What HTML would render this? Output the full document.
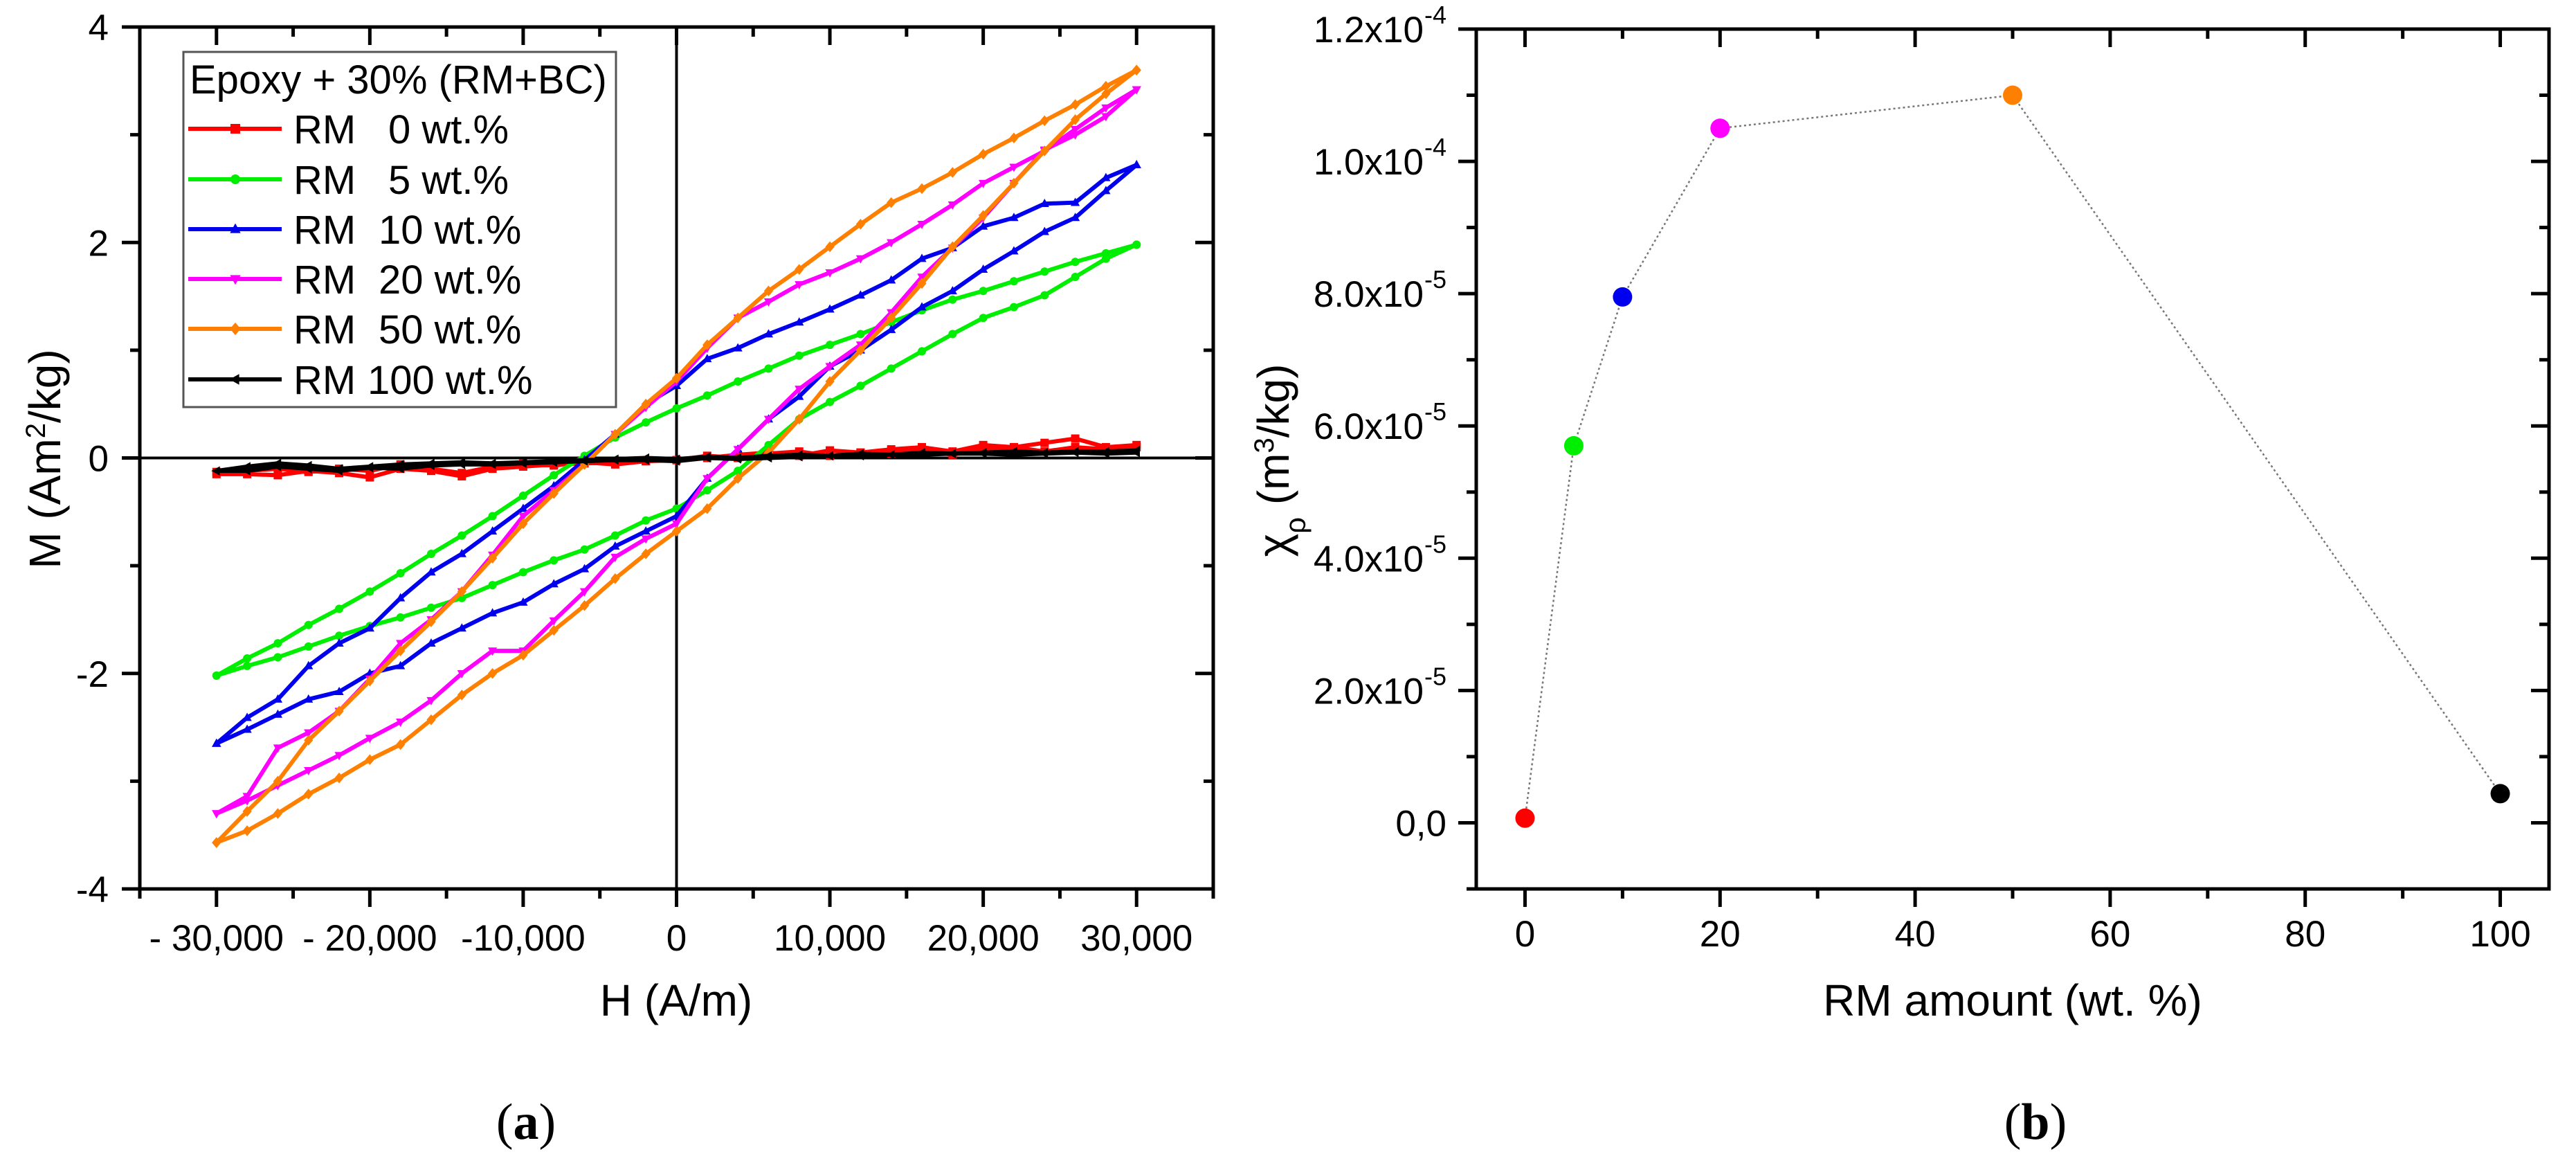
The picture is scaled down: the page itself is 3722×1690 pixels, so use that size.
<!DOCTYPE html>
<html><head><meta charset="utf-8"><style>
html,body{margin:0;padding:0;background:#fff;}
svg{display:block;font-family:"Liberation Sans",Arial,sans-serif;}
</style></head><body>
<svg id="fig" width="3722" height="1690" viewBox="0 0 3722 1690" xmlns="http://www.w3.org/2000/svg">
<g id="pa"></g>
<g id="pb"></g>
<text x="760" y="1645" font-family="Liberation Serif,serif" font-size="74" text-anchor="middle">(<tspan font-weight="bold">a</tspan>)</text>
<text x="2941" y="1645" font-family="Liberation Serif,serif" font-size="74" text-anchor="middle">(<tspan font-weight="bold">b</tspan>)</text>
</svg>
<script>
// ---- Panel (a) data ----
const hGrid = [-30000,-28000,-26000,-24000,-22000,-20000,-18000,-16000,-14000,-12000,-10000,-8000,-6000,-4000,-2000,0,2000,4000,6000,8000,10000,12000,14000,16000,18000,20000,22000,24000,26000,28000,30000];
const seriesNames = ["RM 0 wt.%","RM 5 wt.%","RM 10 wt.%","RM 20 wt.%","RM 50 wt.%","RM 100 wt.%"];
const redUp = [-0.13,-0.12,-0.1,-0.13,-0.1,-0.12,-0.06,-0.1,-0.14,-0.08,-0.05,-0.07,-0.04,-0.06,-0.03,-0.02,0.0,0.03,0.05,0.02,0.07,0.05,0.08,0.1,0.06,0.12,0.1,0.14,0.18,0.1,0.12];
const redDn = [-0.15,-0.15,-0.16,-0.12,-0.14,-0.18,-0.1,-0.12,-0.17,-0.1,-0.08,-0.06,-0.05,-0.04,-0.03,-0.02,0.02,0.0,0.04,0.06,0.02,0.05,0.04,0.07,0.03,0.08,0.1,0.06,0.1,0.08,0.1];
const greenUp = [-2.02,-1.86,-1.72,-1.55,-1.4,-1.24,-1.07,-0.89,-0.72,-0.54,-0.35,-0.16,0.02,0.19,0.33,0.46,0.58,0.71,0.83,0.95,1.05,1.15,1.26,1.37,1.47,1.55,1.64,1.73,1.82,1.9,1.98];
const greenDn = [-2.02,-1.93,-1.85,-1.75,-1.65,-1.56,-1.48,-1.39,-1.3,-1.18,-1.06,-0.95,-0.85,-0.72,-0.58,-0.47,-0.3,-0.12,0.12,0.36,0.52,0.67,0.83,0.99,1.15,1.3,1.4,1.51,1.68,1.85,1.98];
const blueUp = [-2.65,-2.41,-2.24,-1.93,-1.72,-1.58,-1.3,-1.06,-0.89,-0.68,-0.47,-0.26,-0.02,0.22,0.5,0.67,0.92,1.02,1.15,1.26,1.38,1.51,1.65,1.85,1.95,2.15,2.23,2.36,2.37,2.6,2.72];
const blueDn = [-2.65,-2.52,-2.38,-2.24,-2.17,-2.0,-1.93,-1.72,-1.58,-1.44,-1.34,-1.17,-1.03,-0.82,-0.68,-0.54,-0.19,0.08,0.36,0.57,0.85,1.0,1.19,1.4,1.55,1.75,1.92,2.1,2.23,2.48,2.72];
const magUp = [-3.3,-3.14,-2.69,-2.55,-2.35,-2.05,-1.72,-1.5,-1.24,-0.9,-0.54,-0.3,-0.06,0.22,0.47,0.71,1.02,1.3,1.45,1.61,1.72,1.85,2.0,2.17,2.35,2.55,2.7,2.85,3.05,3.25,3.42];
const magDn = [-3.3,-3.18,-3.04,-2.9,-2.76,-2.6,-2.45,-2.25,-2.0,-1.79,-1.79,-1.51,-1.24,-0.92,-0.75,-0.61,-0.19,0.08,0.36,0.64,0.85,1.05,1.35,1.68,1.95,2.23,2.55,2.86,3.0,3.17,3.42];
const orangeUp = [-3.57,-3.28,-3.0,-2.62,-2.35,-2.07,-1.79,-1.52,-1.24,-0.93,-0.61,-0.33,-0.06,0.22,0.5,0.74,1.05,1.3,1.55,1.75,1.96,2.17,2.37,2.5,2.65,2.82,2.97,3.13,3.28,3.45,3.6];
const orangeDn = [-3.57,-3.46,-3.3,-3.12,-2.97,-2.8,-2.66,-2.43,-2.2,-2.0,-1.83,-1.6,-1.37,-1.12,-0.89,-0.68,-0.47,-0.19,0.05,0.36,0.71,1.0,1.3,1.62,1.96,2.25,2.55,2.85,3.14,3.38,3.6];
const blackUp = [-0.12,-0.08,-0.05,-0.07,-0.1,-0.08,-0.06,-0.05,-0.04,-0.05,-0.04,-0.03,-0.02,-0.01,0.0,-0.01,0.01,0.0,0.02,0.03,0.02,0.04,0.03,0.05,0.04,0.05,0.06,0.05,0.06,0.06,0.07];
const blackDn = [-0.12,-0.12,-0.08,-0.1,-0.12,-0.09,-0.1,-0.07,-0.06,-0.06,-0.05,-0.04,-0.03,-0.02,-0.02,-0.03,0.0,-0.01,0.0,0.01,0.02,0.02,0.03,0.03,0.04,0.04,0.03,0.04,0.05,0.04,0.05];
const xTicksA = [-30000,-20000,-10000,0,10000,20000,30000];
const xTickLabelsA = ["- 30,000","- 20,000","-10,000","0","10,000","20,000","30,000"];
const yTicksA = [-4,-2,0,2,4];
const yTickLabelsA = ["-4","-2","0","2","4"];
// ---- Panel (b) data ----
const rmAmount = [0,5,10,20,50,100];
const chiValues = [0.07e-5,5.7e-5,7.95e-5,10.5e-5,11.0e-5,0.44e-5];
const xTicksB = [0,20,40,60,80,100];
const yTicksB = [0,2e-5,4e-5,6e-5,8e-5,10e-5,12e-5];
const yTickMantB = ["0,0","2.0x10","4.0x10","6.0x10","8.0x10","1.0x10","1.2x10"];
const yTickExpB = ["","-5","-5","-5","-5","-4","-4"];

const NS="http://www.w3.org/2000/svg";
function mk(parent,tag,attrs,text){const e=document.createElementNS(NS,tag);for(const k in attrs)e.setAttribute(k,attrs[k]);if(text!==undefined)e.textContent=text;parent.appendChild(e);return e;}

// ===== Panel A =====
const A={l:202,r:1753,t:39,b:1284,x0:-35000,x1:35000,y0:-4,y1:4};
const ax=v=>A.l+(v-A.x0)/(A.x1-A.x0)*(A.r-A.l);
const ay=v=>A.b-(v-A.y0)/(A.y1-A.y0)*(A.b-A.t);
const pa=document.getElementById('pa');
let zl=mk(pa,'line',{x1:ax(0),x2:ax(0),y1:A.t,y2:A.b,stroke:'#000','stroke-width':4});


zl=mk(pa,'line',{x1:A.l,x2:A.r,y1:ay(0),y2:ay(0),stroke:'#000','stroke-width':4});



const colors=['#ff0000','#00ee00','#0000ee','#ff00ff','#ff8000','#000000'];
const shapes=['square','circle','tri-up','tri-down','diamond','tri-left'];
const ups=[redUp,greenUp,blueUp,magUp,orangeUp,blackUp];
const dns=[redDn,greenDn,blueDn,magDn,orangeDn,blackDn];
function marker(g,shape,x,y,c,s){
  let p;
  if(shape==='square')p=`M${x-s},${y-s}h${2*s}v${2*s}h${-2*s}z`;
  else if(shape==='circle'){const e=mk(g,'circle',{cx:x,cy:y,r:s,fill:c});return e;}
  else if(shape==='tri-up')p=`M${x},${y-s*1.2}L${x+s*1.1},${y+s*0.8}L${x-s*1.1},${y+s*0.8}z`;
  else if(shape==='tri-down')p=`M${x},${y+s*1.2}L${x+s*1.1},${y-s*0.8}L${x-s*1.1},${y-s*0.8}z`;
  else if(shape==='diamond')p=`M${x},${y-s*1.3}L${x+s*1.1},${y}L${x},${y+s*1.3}L${x-s*1.1},${y}z`;
  else p=`M${x-s*1.2},${y}L${x+s*0.8},${y-s*1.1}L${x+s*0.8},${y+s*1.1}z`;
  return mk(g,'path',{d:p,fill:c});
}
for(let i=0;i<6;i++){
  const g=mk(pa,'g',{});
  
  
  const pts=[];
  for(let k=hGrid.length-1;k>=0;k--)pts.push([ax(hGrid[k]),ay(ups[i][k])]);
  for(let k=0;k<hGrid.length;k++)pts.push([ax(hGrid[k]),ay(dns[i][k])]);
  const line=mk(g,'polyline',{points:pts.map(p=>p.join(',')).join(' '),fill:'none',stroke:colors[i],'stroke-width':6,'stroke-linejoin':'round'});
  
  
  pts.forEach(p=>{const m=marker(g,shapes[i],p[0],p[1],colors[i],6);
    
    });
}
const fa=mk(pa,'rect',{x:A.l,y:A.t,width:A.r-A.l,height:A.b-A.t,fill:'none',stroke:'#000','stroke-width':5});


for(let v=-35000;v<=35000;v+=5000){
  const maj=(v%10000===0)&&Math.abs(v)<=30000;const L=maj?26:14;
  mk(pa,'line',{x1:ax(v),x2:ax(v),y1:A.b,y2:A.b+L,stroke:'#000','stroke-width':5});
  mk(pa,'line',{x1:ax(v),x2:ax(v),y1:A.t,y2:A.t+L,stroke:'#000','stroke-width':5});
}
xTicksA.forEach((v,i)=>{const t=mk(pa,'text',{x:ax(v),y:1373,'font-size':53,'text-anchor':'middle'},xTickLabelsA[i]);
  
  });
for(let v=-4;v<=4;v+=1){
  const L=(v%2===0)?26:14;
  mk(pa,'line',{x1:A.l-L,x2:A.l,y1:ay(v),y2:ay(v),stroke:'#000','stroke-width':5});
  mk(pa,'line',{x1:A.r-L,x2:A.r,y1:ay(v),y2:ay(v),stroke:'#000','stroke-width':5});
}
yTicksA.forEach((v,i)=>{const t=mk(pa,'text',{x:157,y:ay(v)+19,'font-size':53,'text-anchor':'end'},yTickLabelsA[i]);
  
  });
let tt=mk(pa,'text',{x:977,y:1467,'font-size':64,'text-anchor':'middle'},'H (A/m)');


tt=mk(pa,'text',{transform:'translate(87,663) rotate(-90)','font-size':64,'text-anchor':'middle'});
tt.innerHTML='M (Am<tspan baseline-shift="super" font-size="40">2</tspan>/kg)';


const lg=mk(pa,'g',{});


mk(lg,'rect',{x:265,y:75,width:625,height:513,fill:'#fff',stroke:'#555','stroke-width':3});
mk(lg,'text',{x:274,y:135,'font-size':58},'Epoxy + 30% (RM+BC)');
const rowY=[186,259,331,403,475,548];
const valX=[561,561,547,547,547,531];
const vals=['0 wt.%','5 wt.%','10 wt.%','20 wt.%','50 wt.%','100 wt.%'];
for(let i=0;i<6;i++){
  const e=mk(lg,'g',{});
  
  
  mk(e,'line',{x1:272,x2:407,y1:rowY[i],y2:rowY[i],stroke:colors[i],'stroke-width':6});
  marker(e,shapes[i],340,rowY[i],colors[i],7);
  mk(e,'text',{x:424,y:rowY[i]+21,'font-size':58},'RM');
  mk(e,'text',{x:valX[i],y:rowY[i]+21,'font-size':58},vals[i]);
}

// ===== Panel B =====
const B={l:2133,r:3683,t:42,b:1284,x0:-5,x1:105,y0:-1e-5,y1:1.2e-4};
const bx=v=>B.l+(v-B.x0)/(B.x1-B.x0)*(B.r-B.l);
const by=v=>B.b-(v-B.y0)/(B.y1-B.y0)*(B.b-B.t);
const pb=document.getElementById('pb');
const conn=mk(pb,'polyline',{points:rmAmount.map((v,i)=>bx(v)+','+by(chiValues[i])).join(' '),fill:'none',stroke:'#777','stroke-width':2.5,'stroke-dasharray':'3,4'});


rmAmount.forEach((v,i)=>{const c=mk(pb,'circle',{cx:bx(v),cy:by(chiValues[i]),r:14,fill:colors[i]});
  
  });
const fb=mk(pb,'rect',{x:B.l,y:B.t,width:B.r-B.l,height:B.b-B.t,fill:'none',stroke:'#000','stroke-width':5});


for(let v=0;v<=100;v+=10){
  const L=(v%20===0)?26:14;
  mk(pb,'line',{x1:bx(v),x2:bx(v),y1:B.b,y2:B.b+L,stroke:'#000','stroke-width':5});
  mk(pb,'line',{x1:bx(v),x2:bx(v),y1:B.t,y2:B.t+L,stroke:'#000','stroke-width':5});
}
xTicksB.forEach(v=>{const t=mk(pb,'text',{x:bx(v),y:1367,'font-size':53,'text-anchor':'middle'},String(v));
  
  });
for(let k=-1;k<=12;k++){
  const v=k*1e-5;const L=(k%2===0)?26:14;
  mk(pb,'line',{x1:B.l-L,x2:B.l,y1:by(v),y2:by(v),stroke:'#000','stroke-width':5});
  mk(pb,'line',{x1:B.r-L,x2:B.r,y1:by(v),y2:by(v),stroke:'#000','stroke-width':5});
}
yTicksB.forEach((v,i)=>{
  const t=mk(pb,'text',{x:yTickExpB[i]?2057:2090,y:by(v)+19,'font-size':53,'text-anchor':'end'},yTickMantB[i]);
  
  
  if(yTickExpB[i]){const s=mk(pb,'text',{x:2058,y:by(v)-8,'font-size':36},yTickExpB[i]);
    
    }
});
tt=mk(pb,'text',{x:2908,y:1467,'font-size':64,'text-anchor':'middle'},'RM amount (wt. %)');


tt=mk(pb,'text',{transform:'translate(1862,665) rotate(-90)','font-size':64,'text-anchor':'middle'});
tt.innerHTML='χ<tspan baseline-shift="sub" font-size="42">ρ</tspan> (m<tspan baseline-shift="super" font-size="40">3</tspan>/kg)';


</script>
</body></html>
